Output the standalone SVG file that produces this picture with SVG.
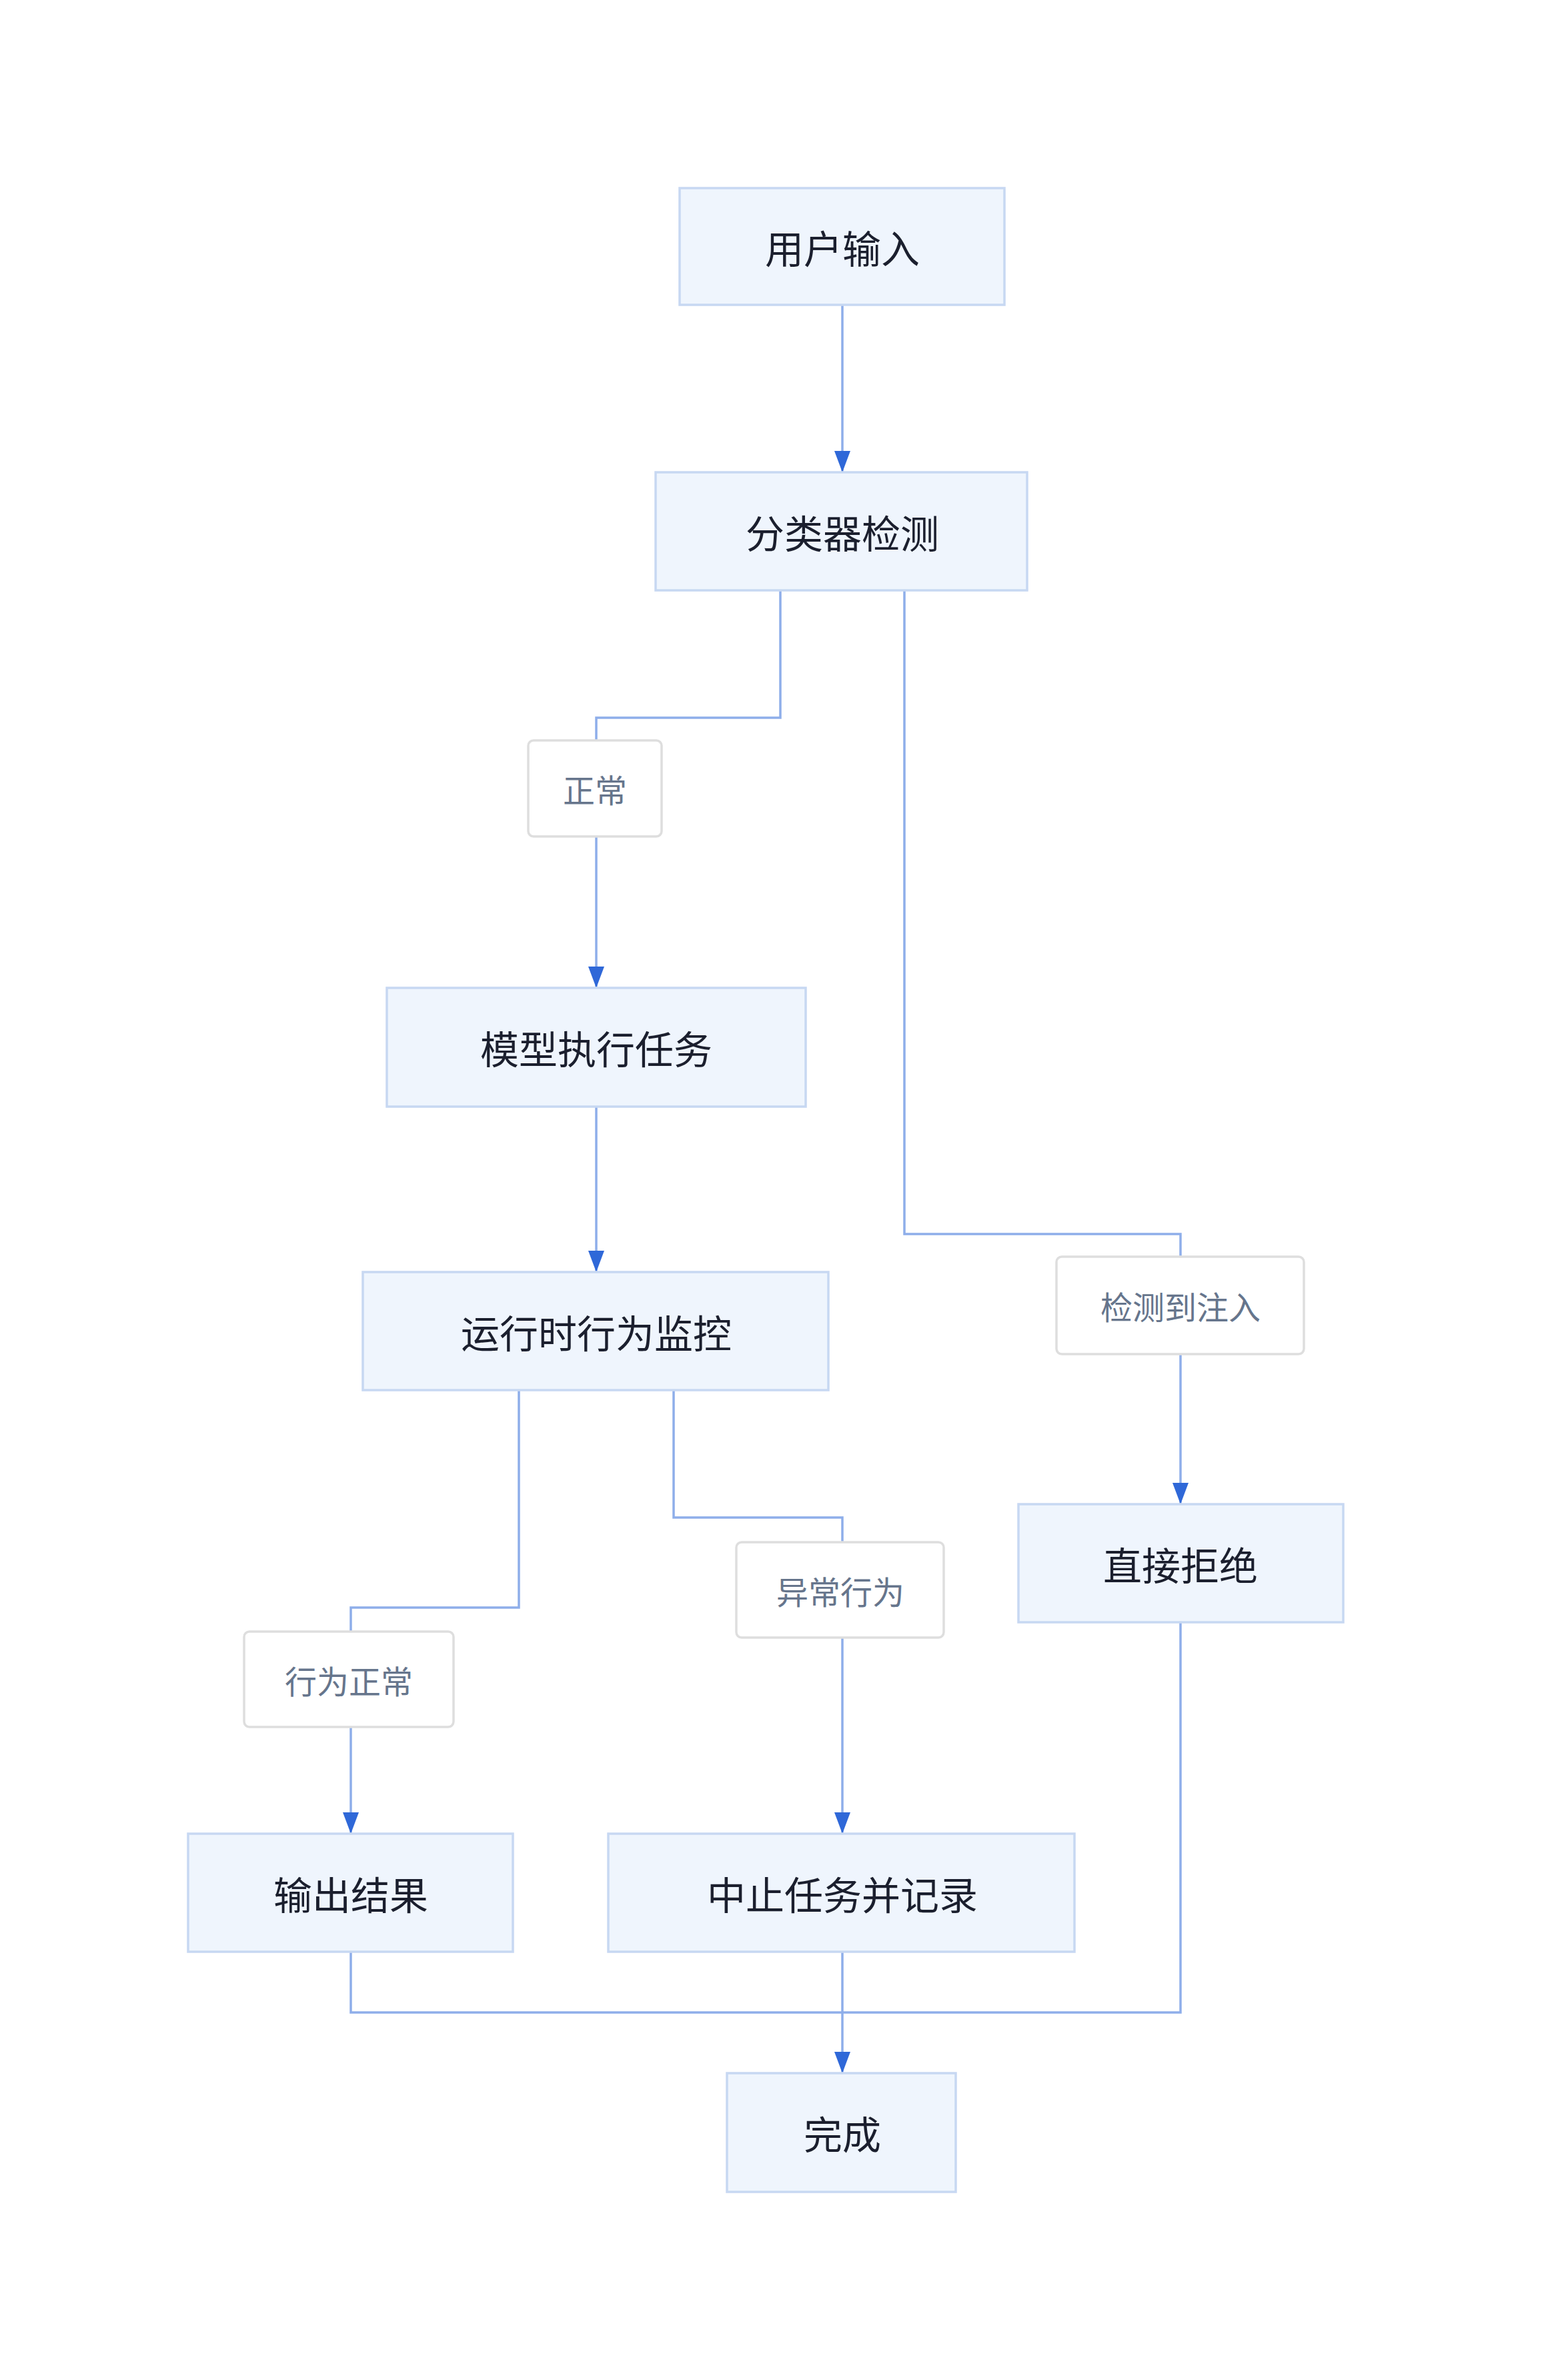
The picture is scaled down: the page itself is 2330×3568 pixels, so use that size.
<svg xmlns="http://www.w3.org/2000/svg" width="2330" height="3568" viewBox="0 0 2330 3568">
<style>
.n rect{fill:#eff5fd;stroke:#c7d8f2;stroke-width:3.5}
.n text{font-family:"Noto Sans CJK SC",sans-serif;font-size:58px;fill:#1b1f2e;text-anchor:middle;dominant-baseline:central}
.l rect{fill:#fff;stroke:#dedede;stroke-width:3.5}
.l text{font-family:"Noto Sans CJK SC",sans-serif;font-size:48px;fill:#66758c;text-anchor:middle;dominant-baseline:central}
.e path{fill:none;stroke:#8eaeea;stroke-width:3.5}
</style>
<defs><marker id="a" markerUnits="userSpaceOnUse" markerWidth="24" markerHeight="32" refX="12" refY="32" orient="auto-start-reverse" viewBox="0 0 24 32"><path d="M0 0L24 0L12 32Z" fill="#2f68d8" transform="rotate(0)"/></marker>
<marker id="b" markerUnits="userSpaceOnUse" markerWidth="32" markerHeight="24" refX="32" refY="12" orient="auto" viewBox="0 0 32 24"><path d="M0 0L32 12L0 24Z" fill="#2f68d8"/></marker></defs>
<g class="e">
<path d="M1263 457V708" marker-end="url(#b)"/>
<path d="M1170 885V1076H894V1110"/>
<path d="M894 1254V1481" marker-end="url(#b)"/>
<path d="M1356 885V1850H1770V1884"/>
<path d="M1770 2030V2255" marker-end="url(#b)"/>
<path d="M894 1659V1907" marker-end="url(#b)"/>
<path d="M778 2084V2410H526V2446"/>
<path d="M526 2589V2749" marker-end="url(#b)"/>
<path d="M1010 2084V2275H1263V2312"/>
<path d="M1263 2455V2749" marker-end="url(#b)"/>
<path d="M526 2926V3017H1263"/>
<path d="M1770 2432V3017H1263"/>
<path d="M1263 2926V3108" marker-end="url(#b)"/>
</g>
<g id="n1" class="n"><rect x="1019" y="282" width="487" height="175"/><text x="1263" y="370">用户输入</text></g>
<g id="n2" class="n"><rect x="983" y="708" width="557" height="177"/><text x="1263" y="797">分类器检测</text></g>
<g id="l1" class="l"><rect x="792" y="1110" width="200" height="144" rx="8"/><text x="892" y="1182">正常</text></g>
<g id="n3" class="n"><rect x="580" y="1481" width="628" height="178"/><text x="894" y="1570">模型执行任务</text></g>
<g id="n4" class="n"><rect x="544" y="1907" width="698" height="177"/><text x="894" y="1996">运行时行为监控</text></g>
<g id="l2" class="l"><rect x="1584" y="1884" width="371" height="146" rx="8"/><text x="1770" y="1957">检测到注入</text></g>
<g id="n5" class="n"><rect x="1527" y="2255" width="487" height="177"/><text x="1770" y="2344">直接拒绝</text></g>
<g id="l3" class="l"><rect x="1104" y="2312" width="311" height="143" rx="8"/><text x="1260" y="2384">异常行为</text></g>
<g id="l4" class="l"><rect x="366" y="2446" width="314" height="143" rx="8"/><text x="523" y="2518">行为正常</text></g>
<g id="n6" class="n"><rect x="282" y="2749" width="487" height="177"/><text x="526" y="2838">输出结果</text></g>
<g id="n7" class="n"><rect x="912" y="2749" width="699" height="177"/><text x="1263" y="2838">中止任务并记录</text></g>
<g id="n8" class="n"><rect x="1090" y="3108" width="343" height="178"/><text x="1263" y="3197">完成</text></g>
</svg>
